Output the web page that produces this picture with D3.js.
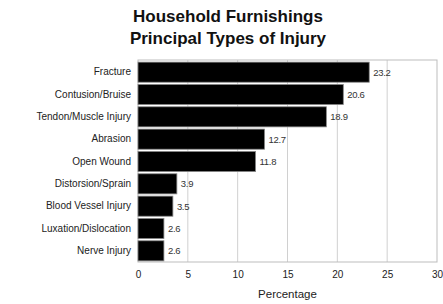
<!DOCTYPE html>
<html>
<head>
<meta charset="utf-8">
<script src="https://cdn.jsdelivr.net/npm/d3@7"></script>
<style>
  html, body { margin: 0; padding: 0; background: #fff; }
  svg { display: block; font-family: "Liberation Sans", Arial, sans-serif; }
</style>
</head>
<body>
<svg id="chart"></svg>
<script>
// ─── Data ──────────────────────────────────────────────────────────────────
const categories = [
  "Fracture", "Contusion/Bruise", "Tendon/Muscle Injury", "Abrasion", "Open Wound",
  "Distorsion/Sprain", "Blood Vessel Injury", "Luxation/Dislocation", "Nerve Injury"
];
const values = [23.2, 20.6, 18.9, 12.7, 11.8, 3.9, 3.5, 2.6, 2.6];
const xTicks = [0, 5, 10, 15, 20, 25, 30];
const titleLines = ["Household Furnishings", "Principal Types of Injury"];

// ─── Layout ────────────────────────────────────────────────────────────────
const W = 443, H = 304;
const M = { top: 60, right: 6, bottom: 42, left: 138 };

const svg = d3.select("#chart").attr("width", W).attr("height", H);

const x = d3.scaleLinear().domain([0, 30]).range([M.left, W - M.right]);
const y = d3.scaleBand().domain(categories).range([M.top + 1, H - M.bottom]).paddingInner(0.1).paddingOuter(0.05);

// ── Title ──────────────────────────────────────────────────────────────────
svg.append("g").selectAll("text").data(titleLines).join("text")
  .attr("x", 228).attr("y", (d, i) => 22 + i * 22)
  .attr("text-anchor", "middle")
  .attr("font-size", "17px").attr("font-weight", "700").attr("fill", "#111")
  .text(d => d);

// ── Grid + frame ───────────────────────────────────────────────────────────
svg.append("g").selectAll("line").data(xTicks.slice(1, -1)).join("line")
  .attr("x1", d => x(d)).attr("x2", d => x(d))
  .attr("y1", M.top).attr("y2", H - M.bottom)
  .attr("stroke", "#d0d0d0").attr("stroke-width", 1);

svg.append("rect")
  .attr("x", x(0)).attr("y", M.top)
  .attr("width", x(30) - x(0)).attr("height", H - M.bottom - M.top)
  .attr("fill", "none").attr("stroke", "#bdbdbd").attr("stroke-width", 1);

// ── Bars ───────────────────────────────────────────────────────────────────
svg.append("g").selectAll("rect").data(values).join("rect")
  .attr("x", x(0))
  .attr("y", (d, i) => y(categories[i]))
  .attr("width", d => x(d) - x(0))
  .attr("height", y.bandwidth())
  .attr("fill", "#000").attr("stroke", "#888").attr("stroke-width", 0.8);

svg.append("g").selectAll("text").data(values).join("text")
  .attr("x", d => x(d) + 4)
  .attr("y", (d, i) => y(categories[i]) + y.bandwidth() / 2 + 3.5)
  .attr("font-size", "9.5px").attr("fill", "#333").attr("letter-spacing", "-0.3px")
  .text(d => d.toFixed(1));

// ── Axes ───────────────────────────────────────────────────────────────────
const yAxis = svg.append("g")
  .attr("transform", `translate(${M.left - 7},0)`)
  .call(d3.axisLeft(y).tickSize(0).tickPadding(0));
yAxis.select(".domain").remove();
yAxis.selectAll("text").attr("font-size", "10px").attr("fill", "#222")
  .attr("font-family", "'Liberation Sans', Arial, sans-serif");

const xAxis = svg.append("g")
  .attr("transform", `translate(0,${H - M.bottom})`)
  .call(d3.axisBottom(x).tickValues(xTicks).tickSize(0).tickPadding(9));
xAxis.select(".domain").remove();
xAxis.selectAll("text").attr("font-size", "10px").attr("fill", "#222")
  .attr("font-family", "'Liberation Sans', Arial, sans-serif");

svg.append("text")
  .attr("x", x(15)).attr("y", 298)
  .attr("text-anchor", "middle")
  .attr("font-size", "11.5px").attr("fill", "#222")
  .text("Percentage");
</script>
</body>
</html>
